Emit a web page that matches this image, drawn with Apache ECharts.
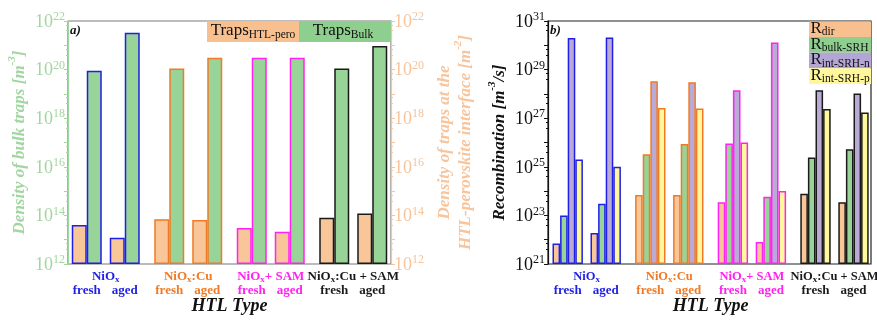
<!DOCTYPE html>
<html><head><meta charset="utf-8">
<script src="https://cdn.jsdelivr.net/npm/echarts@6/dist/echarts.min.js"></script>
<style>html,body{margin:0;padding:0;background:#fff}#c{width:877px;height:320px}</style>
</head><body><div id="c"></div>
<script>
// ---- data ----
const groups = ['NiOx', 'NiOx:Cu', 'NiOx+ SAM', 'NiOx:Cu + SAM'];
const conditions = ['fresh', 'aged'];
const groupColors = ['#1f1fe6', '#f07a25', '#ff22f0', '#1a1a1a'];
// panel a) traps
const trapsInterfaceFresh = [4.0e13, 7.0e13, 3.0e13, 8.0e13];
const trapsInterfaceAged  = [1.2e13, 6.5e13, 2.1e13, 1.2e14];
const trapsBulkFresh      = [9.0e19, 1.1e20, 3.1e20, 1.1e20];
const trapsBulkAged       = [3.3e21, 3.1e20, 3.1e20, 9.4e20];
// panel b) recombination
const rDirFresh   = [6.9e21, 6.9e23, 3.5e23, 7.8e23];
const rDirAged    = [1.9e22, 6.9e23, 8.0e21, 3.5e23];
const rBulkFresh  = [1.0e23, 3.3e25, 9.0e25, 2.4e25];
const rBulkAged   = [3.0e23, 8.7e25, 5.9e23, 5.3e25];
const rIntNFresh  = [2.0e30, 3.3e28, 1.4e28, 1.4e28];
const rIntNAged   = [2.1e30, 3.0e28, 1.3e30, 1.05e28];
const rIntPFresh  = [2.0e25, 2.6e27, 1.0e26, 2.4e27];
const rIntPAged   = [1.0e25, 2.5e27, 1.0e24, 1.7e27];
const legendA = [['Traps', 'HTL-pero'], ['Traps', 'Bulk']];
const legendB = [['R', 'dir'], ['R', 'bulk-SRH'], ['R', 'int-SRH-n'], ['R', 'int-SRH-p']];

// ---- styling ----
const SERIF = '"Liberation Serif","Times New Roman",serif';
const ORANGE = '#F9C699', GREEN = '#98D398', PURPLE = '#BAAAD6', YELLOW = '#FFF89C';
const GREEN_TXT = '#a2d6a0', ORANGE_TXT = '#f7c49b';

const chart = echarts.init(document.getElementById('c'));

function items(values) {
  return values.map((v, i) => ({ value: v, itemStyle: { borderColor: groupColors[i] } }));
}
function bar(name, values, fill, xi, yi, w) {
  return { type: 'bar', name, xAxisIndex: xi, yAxisIndex: yi, data: items(values), barWidth: w,
    barGap: '0%', clip: true, itemStyle: { color: fill, borderWidth: 1.5 } };
}
function spacer(xi, yi, w) {
  return { type: 'bar', xAxisIndex: xi, yAxisIndex: yi, data: groups.map(() => null), barWidth: w,
    barGap: '0%', silent: true };
}

function makeXRich(size) {
  const r = {};
  groups.forEach((g, i) => {
    const base = { color: groupColors[i], fontFamily: SERIF, fontWeight: 'bold', fontSize: size };
    r['g' + i] = Object.assign({}, base, { lineHeight: 14, verticalAlign: 'middle' });
    r['x' + i] = Object.assign({}, base, { fontSize: 9, lineHeight: 8, verticalAlign: 'bottom' });
    r['f' + i] = Object.assign({}, base, { fontSize: 13, width: 38, align: 'center', lineHeight: 14 });
    r['a' + i] = Object.assign({}, base, { fontSize: 13, width: 38, align: 'center', lineHeight: 14 });
  });
  return r;
}
function xLabel(val, i) {
  const rest = val.slice(4);
  let s = '{g' + i + '|NiO}{x' + i + '|x}';
  if (rest) s += '{g' + i + '|' + rest + '}';
  s += '\n{f' + i + '|' + conditions[0] + '}{a' + i + '|' + conditions[1] + '}';
  return s;
}
function xAxis(gi, size) {
  return { type: 'category', gridIndex: gi, data: groups,
    axisLine: { show: false },
    axisTick: { alignWithLabel: true, length: 4, lineStyle: { color: '#111' } },
    axisLabel: { interval: 0, margin: 6, formatter: xLabel, rich: makeXRich(size) },
    splitLine: { show: false },
    name: 'HTL Type', nameLocation: 'middle', nameGap: 33, nameMoveOverlap: false,
    nameTextStyle: { fontFamily: SERIF, fontStyle: 'italic', fontWeight: 'bold', fontSize: 18, color: '#111' } };
}
function expRich(color) {
  return {
    b: { fontFamily: SERIF, fontSize: 18, color, lineHeight: 20, verticalAlign: 'bottom' },
    s: { fontFamily: SERIF, fontSize: 12, color, lineHeight: 12, verticalAlign: 'top' }
  };
}
function yAxis(gi, pos, offset, min, max, parity, color, lineColor, name, nameGap) {
  return { type: 'log', logBase: 10, gridIndex: gi, position: pos, offset, min, max, interval: 1, startValue: min,
    axisLine: { show: true, lineStyle: { color: lineColor, width: 1.2 } },
    axisTick: { show: true, length: 4, lineStyle: { color: lineColor } },
    minorTick: { show: true, splitNumber: 3, length: 2, lineStyle: { color: lineColor } },
    axisLabel: { margin: 3, rich: expRich(color),
      formatter: v => { const e = Math.round(Math.log10(v)); return (((e % 2) + 2) % 2 === parity) ? '{b|10}{s|' + e + '}' : ''; } },
    splitLine: { show: false },
    name, nameLocation: 'middle', nameGap, nameMoveOverlap: false,
    nameTextStyle: { rich: {
      t: { fontFamily: SERIF, fontStyle: 'italic', fontWeight: 'bold', fontSize: 17, color, lineHeight: 21, verticalAlign: 'bottom' },
      s: { fontFamily: SERIF, fontStyle: 'italic', fontWeight: 'bold', fontSize: 11, color, lineHeight: 11, verticalAlign: 'top' } } } };
}

// legend graphics
const graphics = [];
function legendBox(x, y, w, h, fill, parts, align, tx) {
  graphics.push({ type: 'rect', x, y, shape: { x: 0, y: 0, width: w, height: h }, style: { fill }, z: 100 });
  graphics.push({ type: 'text', x: tx, y: y + h / 2, z: 101, style: {
    text: '{t|' + parts[0] + '}{s|' + parts[1] + '}', align, verticalAlign: 'middle',
    rich: { t: { fontFamily: SERIF, fontSize: 17, fill: '#111', color: '#111', lineHeight: 18, verticalAlign: 'top' },
            s: { fontFamily: SERIF, fontSize: 11.5, fill: '#111', color: '#111', lineHeight: 12, padding: [9, 0, 0, 0], verticalAlign: 'bottom' } } } });
}
legendBox(207, 21, 92, 21, '#F8C08F', legendA[0], 'center', 253);
legendBox(299, 21, 92, 21, '#8ECE8E', legendA[1], 'center', 343);
const legBFills = ['#F8C08F', '#8ECE8E', '#B3A6D4', '#FFF79A'];
legendB.forEach((p, i) => legendBox(809, 21.5 + i * 15.6, 62, 15.6, legBFills[i], p, 'left', 810.5));
graphics.push({ type: 'text', x: 70, y: 24, z: 101, style: { text: 'a)', fontFamily: SERIF, fontStyle: 'italic', fontWeight: 'bold', fontSize: 13, fill: '#111' } });
graphics.push({ type: 'text', x: 550, y: 24, z: 101, style: { text: 'b)', fontFamily: SERIF, fontStyle: 'italic', fontWeight: 'bold', fontSize: 13, fill: '#111' } });

const G = { top: 21, bottom: 56, outerBoundsMode: 'none', containLabel: false };
chart.setOption({
  animation: false,
  grid: [
    // data grids (category bands slightly wider than the drawn frame, as in the original)
    Object.assign({ left: 64.5, right: 482.5, show: false }, G),
    Object.assign({ left: 545.4, right: 1.2, show: false }, G),
    // frames
    Object.assign({ left: 68, right: 486, show: true, borderColor: '#7a7a7a', borderWidth: 1.2, backgroundColor: 'transparent' }, G),
    Object.assign({ left: 548, right: 6, show: true, borderColor: '#222', borderWidth: 1.2, backgroundColor: 'transparent' }, G)
  ],
  xAxis: [xAxis(0, 13), xAxis(1, 12.5)],
  yAxis: [
    yAxis(0, 'left', -3.5, 1e12, 1e22, 0, GREEN_TXT, GREEN_TXT, '{t|Density of bulk traps [m}{s|-3}{t|]}', 40),
    yAxis(0, 'right', -3.5, 1e12, 1e22, 0, ORANGE_TXT, ORANGE_TXT, '{t|Density of traps at the}\n{t|HTL-perovskite interface [m}{s|-2}{t|]}', 41),
    yAxis(1, 'left', -2.6, 1e21, 1e31, 1, '#111', '#111', '{t|Recombination [m}{s|-3}{t|/s]}', 40)
  ],
  series: [
    bar('Traps HTL-pero fresh', trapsInterfaceFresh, ORANGE, 0, 1, 15),
    bar('Traps Bulk fresh', trapsBulkFresh, GREEN, 0, 0, 15),
    spacer(0, 0, 8),
    bar('Traps HTL-pero aged', trapsInterfaceAged, ORANGE, 0, 1, 15),
    bar('Traps Bulk aged', trapsBulkAged, GREEN, 0, 0, 15),
    bar('R dir fresh', rDirFresh, ORANGE, 1, 2, 7.6),
    bar('R bulk-SRH fresh', rBulkFresh, GREEN, 1, 2, 7.6),
    bar('R int-SRH-n fresh', rIntNFresh, PURPLE, 1, 2, 7.6),
    bar('R int-SRH-p fresh', rIntPFresh, YELLOW, 1, 2, 7.6),
    spacer(1, 2, 7.6),
    bar('R dir aged', rDirAged, ORANGE, 1, 2, 7.6),
    bar('R bulk-SRH aged', rBulkAged, GREEN, 1, 2, 7.6),
    bar('R int-SRH-n aged', rIntNAged, PURPLE, 1, 2, 7.6),
    bar('R int-SRH-p aged', rIntPAged, YELLOW, 1, 2, 7.6)
  ],
  graphic: graphics
});
</script></body></html>
